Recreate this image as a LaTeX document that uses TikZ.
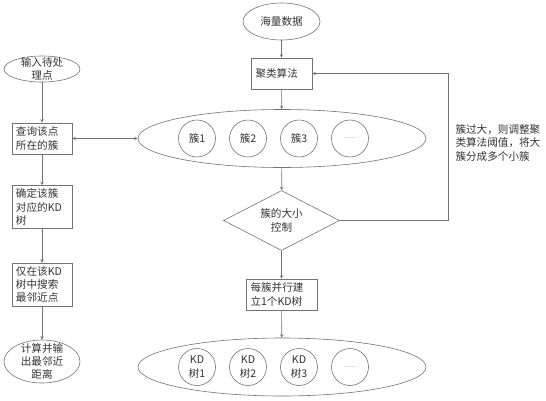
\documentclass[tikz,border=0pt]{standalone}
\usepackage{fontspec}
\setmainfont{Noto Sans CJK SC}
\usetikzlibrary{shapes.geometric}

\begin{document}
\begin{tikzpicture}
    [x=1pt,y=-1pt,
     font=\fontsize{10.6}{13.4}\selectfont,text=black!80,
     pre/.style={<-,>=stealth,draw=black!55,line width=0.6pt},
     both/.style={<->,>=stealth,draw=black!55,line width=0.6pt},
     proc/.style={shape=rectangle,draw=black!55,line width=0.6pt,minimum width=60pt,
       minimum height=31pt,text width=52pt,align=left,inner sep=3pt},
     term/.style={shape=ellipse,draw=black!55,line width=0.6pt,minimum width=76pt,
       minimum height=26pt,inner sep=0pt,label={[align=center]center:#1}},
     group/.style={shape=ellipse,draw=black!55,line width=0.6pt,minimum width=288pt,
       minimum height=58pt,inner sep=0pt},
     part/.style={shape=circle,draw=black!55,line width=0.6pt,minimum size=37pt,
       inner sep=0pt,align=center},
     more/.style={part,font=\fontsize{7}{7}\selectfont,text=black!45}]
    \useasboundingbox (0,0) rectangle (546,400);
    % left column: query
    \node [term=输入待处\\理点] (in) at (42,69) {};
    \node [proc] (qry) at (42,138.5) {查询该点\\所在的簇}
      edge [pre] (in);
    \node [proc] (fix) at (42,207) {确定该簇\\对应的KD\\树}
      edge [pre] (qry);
    \node [proc] (srch) at (42,284.5) {仅在该KD\\树中搜索\\最邻近点}
      edge [pre] (fix);
    \node [term=计算并输\\出最邻近\\距离,minimum height=43pt] (out) at (42,361.5) {}
      edge [pre] (srch);
    % middle column: build
    \node [term=海量数据,minimum width=77pt,minimum height=37pt] (data) at (281.5,21.5) {};
    \node [proc,minimum width=61pt] (clu) at (281.5,73.5) {聚类算法}
      edge [pre] (data);
    \node [group] (grp) at (282,138.5) {}
      edge [pre] (clu)
      edge [both] (qry);
    \node [part] (c1) at (197,138.5) {簇1};
    \node [part] (c2) at (248,138.5) {簇2};
    \node [part] (c3) at (299,138.5) {簇3};
    \node [more] (c4) at (350,138.5) {......};
    \node [shape=diamond,draw=black!55,line width=0.6pt,aspect=2,minimum width=116pt,
      minimum height=60pt,inner sep=0pt,align=center] (ctl) at (281.5,220.5) {簇的大小\\控制}
      edge [pre] (grp);
    \coordinate (turn) at (448,220.5);
    \draw [pre] (clu.east) -| (turn) -- (ctl.east);
    \node [anchor=north west,align=left] (note) at (452,121) {簇过大，则调整聚\\类算法阈值，将大\\簇分成多个小簇};
    \node [proc,minimum width=71pt,text width=62pt] (bld) at (281.5,294.5) {每簇并行建\\立1个KD树}
      edge [pre] (ctl);
    \node [group] (kds) at (282,367) {}
      edge [pre] (bld);
    \node [part] (k1) at (197,367) {KD\\树1};
    \node [part] (k2) at (248,367) {KD\\树2};
    \node [part] (k3) at (299,367) {KD\\树3};
    \node [more] (k4) at (350,367) {......};
  \end{tikzpicture}
\end{document}
